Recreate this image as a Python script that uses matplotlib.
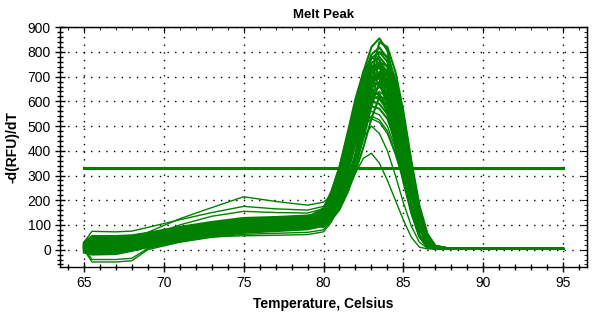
import numpy as np
import matplotlib.pyplot as plt
from matplotlib.ticker import MultipleLocator

plt.rcParams['font.family'] = ['Liberation Sans', 'DejaVu Sans']

### DATA
temps = [65, 65.5, 67, 68, 69, 71, 73, 75, 77, 79, 80, 80.5, 81, 81.5, 82,
         82.5, 83, 83.5, 84, 84.5, 85, 85.5, 86, 86.5, 87, 88, 95]

# main band of wells, peak near 83.5 C
main_curves = [
    [30, 55, 55, 58, 68, 92, 112, 128, 132, 138, 150, 192, 285, 420, 580, 720, 820, 855, 805, 665, 475, 295, 145, 45, 8, 3, 3],
    [25, 45, 48, 52, 62, 86, 105, 120, 125, 130, 142, 182, 272, 405, 560, 695, 790, 818, 775, 640, 460, 285, 140, 45, 8, 3, 3],
    [20, 38, 40, 45, 56, 80, 98, 113, 118, 124, 135, 175, 264, 395, 545, 680, 775, 800, 760, 630, 455, 282, 138, 42, 7, 3, 3],
    [15, 30, 32, 38, 50, 72, 91, 106, 112, 118, 128, 168, 256, 385, 530, 660, 755, 780, 740, 615, 445, 278, 135, 40, 7, 3, 3],
    [10, 22, 25, 30, 43, 65, 85, 100, 106, 112, 122, 162, 248, 375, 515, 645, 735, 758, 722, 600, 435, 272, 132, 38, 6, 3, 3],
    [5, 15, 18, 24, 37, 59, 79, 94, 100, 106, 117, 156, 240, 365, 500, 628, 715, 738, 705, 588, 428, 268, 130, 38, 6, 3, 3],
    [0, 8, 10, 16, 30, 53, 73, 88, 94, 100, 112, 150, 232, 352, 485, 610, 695, 718, 688, 575, 420, 265, 128, 37, 6, 3, 3],
    [-5, 0, 2, 10, 24, 47, 67, 82, 88, 95, 107, 145, 225, 340, 470, 592, 676, 698, 670, 562, 412, 260, 126, 36, 6, 3, 3],
    [-10, -10, -8, 2, 18, 41, 61, 76, 82, 89, 102, 140, 218, 330, 455, 575, 657, 678, 652, 548, 402, 254, 124, 36, 6, 3, 3],
    [-12, -20, -18, -5, 10, 35, 55, 68, 75, 82, 96, 134, 210, 320, 440, 558, 638, 658, 635, 535, 394, 250, 122, 35, 6, 3, 3],
    [5, 20, 22, 28, 39, 62, 84, 102, 110, 117, 130, 168, 250, 365, 490, 595, 640, 625, 580, 480, 355, 225, 110, 32, 6, 3, 3],
    [10, 35, 36, 40, 51, 72, 90, 108, 114, 121, 134, 172, 252, 360, 480, 575, 620, 610, 565, 470, 350, 220, 108, 32, 6, 3, 3],
    [0, 10, 12, 20, 34, 56, 76, 92, 100, 108, 120, 158, 238, 345, 460, 555, 600, 590, 548, 455, 340, 215, 105, 30, 5, 3, 3],
    [-5, -5, -2, 8, 24, 46, 66, 80, 88, 96, 110, 148, 226, 330, 442, 535, 580, 570, 530, 440, 330, 210, 102, 30, 5, 3, 3],
    [8, 28, 29, 34, 46, 68, 88, 104, 110, 116, 128, 166, 248, 372, 505, 635, 725, 748, 712, 594, 430, 270, 131, 38, 6, 3, 3],
    [2, 4, 6, 14, 28, 50, 70, 85, 91, 98, 110, 148, 228, 346, 478, 600, 686, 708, 680, 568, 416, 262, 127, 36, 6, 3, 3],
]

# wells rising a bit earlier
early_curves = [
    [12, 25, 28, 34, 46, 68, 88, 104, 110, 118, 165, 235, 335, 470, 610, 720, 775, 770, 670, 505, 325, 172, 60, 12, 4, 3, 3],
    [18, 40, 42, 46, 56, 78, 96, 110, 116, 122, 160, 225, 320, 445, 570, 670, 715, 710, 618, 470, 304, 162, 56, 11, 4, 3, 3],
    [3, 12, 14, 21, 34, 56, 76, 92, 98, 106, 150, 212, 300, 420, 540, 635, 676, 672, 586, 446, 290, 154, 54, 11, 4, 3, 3],
    [-8, -15, -12, -2, 14, 38, 58, 72, 80, 88, 135, 195, 280, 395, 508, 598, 636, 632, 552, 420, 274, 147, 52, 10, 4, 3, 3],
    [6, 18, 20, 26, 39, 61, 81, 96, 102, 110, 152, 218, 310, 432, 555, 652, 696, 692, 602, 458, 296, 158, 55, 11, 4, 3, 3],
    [22, 48, 49, 53, 63, 84, 102, 118, 124, 130, 168, 236, 332, 462, 592, 698, 745, 740, 644, 490, 316, 168, 58, 12, 4, 3, 3],
]

# wells rising a bit later, broader on the falling side
late_curves = [
    [25, 50, 50, 54, 64, 88, 108, 124, 128, 134, 135, 158, 205, 280, 390, 545, 710, 840, 820, 720, 560, 360, 180, 65, 16, 3, 3],
    [12, 32, 34, 40, 52, 74, 93, 108, 114, 120, 125, 148, 192, 265, 370, 515, 675, 800, 782, 690, 540, 345, 172, 62, 15, 3, 3],
    [0, 6, 8, 15, 29, 52, 72, 87, 93, 100, 110, 132, 176, 248, 350, 490, 642, 760, 742, 655, 515, 330, 164, 58, 14, 3, 3],
    [-8, -15, -13, -3, 13, 37, 57, 70, 78, 85, 98, 120, 162, 232, 330, 462, 608, 720, 703, 620, 490, 315, 156, 55, 13, 3, 3],
    [15, 35, 36, 41, 52, 74, 92, 108, 114, 120, 130, 150, 190, 255, 345, 450, 580, 680, 665, 590, 465, 300, 148, 52, 12, 3, 3],
    [-2, 2, 4, 12, 26, 48, 68, 82, 89, 96, 108, 128, 168, 232, 315, 415, 530, 620, 605, 540, 430, 275, 138, 48, 12, 3, 3],
]

# odd wells (humps near 75 C, low peaks, low start)
odd_curves = [
    [20, 40, 42, 50, 70, 125, 170, 214, 195, 180, 192, 220, 285, 370, 455, 525, 560, 545, 500, 410, 300, 185, 85, 22, 4, 3, 3],
    [30, 74, 72, 75, 90, 121, 150, 175, 165, 160, 175, 210, 280, 365, 445, 510, 540, 525, 480, 395, 290, 180, 82, 20, 4, 3, 3],
    [15, 30, 32, 38, 55, 100, 135, 155, 150, 148, 165, 200, 270, 355, 440, 500, 530, 515, 470, 385, 280, 170, 78, 18, 4, 3, 3],
    [5, 15, 18, 24, 36, 58, 78, 95, 100, 105, 90, 120, 170, 240, 310, 370, 390, 350, 280, 200, 120, 50, 10, 3, 3, 3, 3],
    [0, 5, 8, 15, 28, 50, 70, 85, 92, 100, 105, 140, 205, 290, 380, 455, 500, 470, 400, 300, 190, 95, 30, 6, 3, 3, 3],
    [0, -50, -50, -45, 0, 30, 50, 62, 66, 70, 80, 120, 200, 310, 430, 545, 620, 640, 615, 520, 385, 245, 118, 34, 6, 3, 3],
    [5, -40, -40, -35, 5, 32, 52, 56, 58, 61, 72, 112, 190, 300, 420, 530, 605, 625, 600, 510, 378, 240, 115, 33, 6, 3, 3],
]

threshold = 330
thr_range = [65, 95]

xticks = [65, 70, 75, 80, 85, 90, 95]
yticks = [0, 100, 200, 300, 400, 500, 600, 700, 800, 900]

green = '#008000'

fig = plt.figure(figsize=(5.99, 3.17), dpi=100)
ax = fig.add_axes([0.1002, 0.158, 0.8798, 0.756])

for c in main_curves + early_curves + late_curves:
    ax.plot(temps, c, color=green, lw=1.5)
for c in odd_curves:
    ax.plot(temps, c, color=green, lw=1.0)

ax.plot(thr_range, [threshold, threshold], color=green, lw=2.2)

ax.set_xlim(63.5, 96.5)
ax.set_ylim(-70, 900)
ax.set_xticks(xticks)
ax.set_yticks(yticks)
ax.xaxis.set_minor_locator(MultipleLocator(1))
ax.yaxis.set_minor_locator(MultipleLocator(20))
ax.tick_params(which='both', direction='inout', top=False, right=False,
               labelsize=10, pad=3, color='black')
ax.tick_params(which='major', length=7, width=1)
ax.tick_params(which='minor', length=4, width=1)
ax.grid(True, which='major', color='black', linestyle=(0, (1, 4.5)), lw=1)

# inward ticks on top and right
axt = ax.secondary_xaxis('top')
axt.set_xticks(xticks)
axt.xaxis.set_minor_locator(MultipleLocator(1))
axt.tick_params(which='both', direction='in', labeltop=False)
axt.tick_params(which='major', length=4)
axt.tick_params(which='minor', length=2)
axr = ax.secondary_yaxis('right')
axr.set_yticks(yticks)
axr.yaxis.set_minor_locator(MultipleLocator(20))
axr.tick_params(which='both', direction='in', labelright=False)
axr.tick_params(which='major', length=4)
axr.tick_params(which='minor', length=2)

for s in ax.spines.values():
    s.set_linewidth(1)

ax.set_title('Melt Peak', fontsize=9.5, fontweight='bold', pad=7)
ax.set_xlabel('Temperature, Celsius', fontsize=10, fontweight='bold', labelpad=5)
ax.set_ylabel('-d(RFU)/dT', fontsize=10, fontweight='bold', labelpad=6)

fig.savefig('out.png', dpi=100)
